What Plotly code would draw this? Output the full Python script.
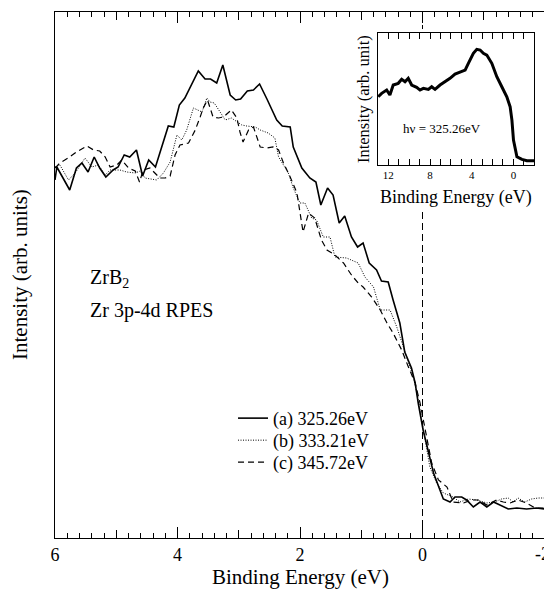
import plotly.graph_objects as go

# ---------------- main panel data (binding energy in eV, intensity arb. units) -------------
energy_a = [6.00, 5.97, 5.76, 5.65, 5.56, 5.46, 5.36, 5.27, 5.17, 5.05, 4.97, 4.87, 4.78, 4.67,
            4.57, 4.47, 4.36, 4.15, 4.06, 3.97, 3.88, 3.66, 3.55, 3.46, 3.36, 3.26, 3.14, 3.05,
            2.97, 2.86, 2.76, 2.66, 2.54, 2.38, 2.29, 2.16, 2.11, 1.97, 1.84, 1.74, 1.66, 1.55,
            1.46, 1.36, 1.27, 1.16, 1.06, 0.97, 0.87, 0.75, 0.67, 0.56, 0.48, 0.37, 0.29, 0.18,
            0.12, 0.07, -0.01, -0.12, -0.18, -0.34, -0.45, -0.53, -0.64, -0.72, -0.83, -0.94,
            -1.05, -1.16, -1.27, -1.40, -1.54, -1.70, -1.86, -2.00]
intensity_a = [3.58, 3.71, 3.48, 3.70, 3.75, 3.66, 3.81, 3.70, 3.61, 3.68, 3.71, 3.83, 3.81, 3.88,
               3.62, 3.78, 3.71, 4.12, 4.11, 4.33, 4.40, 4.67, 4.59, 4.59, 4.55, 4.73, 4.43, 4.38,
               4.39, 4.47, 4.48, 4.54, 4.39, 4.18, 4.12, 4.11, 3.91, 3.70, 3.60, 3.56, 3.33, 3.50,
               3.43, 3.15, 3.22, 3.01, 2.91, 2.95, 2.75, 2.68, 2.57, 2.56, 2.38, 2.15, 1.86, 1.70,
               1.55, 1.35, 1.08, 0.78, 0.65, 0.39, 0.36, 0.41, 0.41, 0.38, 0.31, 0.36,
               0.31, 0.36, 0.33, 0.29, 0.30, 0.29, 0.30, 0.29]

energy_b = [6.00, 5.92, 5.78, 5.67, 5.51, 5.40, 5.29, 5.18, 5.10, 4.94, 4.83, 4.69, 4.61, 4.53,
            4.34, 4.23, 4.12, 4.01, 3.93, 3.85, 3.74, 3.60, 3.52, 3.47, 3.40, 3.31, 3.22, 3.12,
            3.01, 2.95, 2.87, 2.73, 2.65, 2.52, 2.41, 2.35, 2.27, 2.19, 2.11, 2.00, 1.92, 1.81,
            1.73, 1.62, 1.51, 1.43, 1.24, 1.05, 0.94, 0.80, 0.69, 0.53, 0.42, 0.31, 0.20, 0.15,
            0.07, 0.01, -0.04, -0.12, -0.23, -0.34, -0.50, -0.61, -0.75, -0.89, -1.05, -1.18,
            -1.29, -1.40, -1.48, -1.56, -1.67, -1.78, -1.89, -2.00]
intensity_b = [3.71, 3.73, 3.58, 3.65, 3.80, 3.71, 3.73, 3.63, 3.68, 3.68, 3.66, 3.65, 3.67, 3.60,
               3.58, 3.65, 3.76, 4.03, 3.98, 4.08, 4.30, 4.26, 4.40, 4.36, 4.35, 4.26, 4.18, 4.20,
               4.15, 4.13, 4.12, 4.11, 4.08, 4.05, 4.00, 3.81, 3.73, 3.65, 3.50, 3.35, 3.35, 3.20,
               3.18, 3.01, 3.01, 2.81, 2.80, 2.75, 2.61, 2.51, 2.28, 2.28, 2.11, 1.91, 1.71, 1.61,
               1.38, 1.18, 0.98, 0.71, 0.55, 0.45, 0.41, 0.36, 0.39, 0.38, 0.35, 0.36,
               0.39, 0.40, 0.36, 0.40, 0.36, 0.39, 0.40, 0.40]

energy_c = [6.00, 5.92, 5.76, 5.65, 5.48, 5.37, 5.27, 5.18, 5.10, 4.99, 4.91, 4.80, 4.69, 4.62,
            4.56, 4.45, 4.37, 4.29, 4.20, 4.12, 4.04, 3.96, 3.82, 3.71, 3.63, 3.58, 3.51, 3.42,
            3.33, 3.25, 3.12, 3.03, 2.98, 2.93, 2.84, 2.76, 2.65, 2.54, 2.44, 2.35, 2.27, 2.16,
            2.05, 1.95, 1.86, 1.76, 1.65, 1.56, 1.43, 1.29, 1.16, 1.05, 0.97, 0.83, 0.69, 0.58,
            0.48, 0.34, 0.23, 0.12, 0.04, -0.04, -0.15, -0.26, -0.40, -0.50, -0.67, -0.80,
            -0.91, -1.05, -1.21, -1.32, -1.43, -1.56, -1.70, -1.84, -2.00]
intensity_c = [3.70, 3.75, 3.81, 3.86, 3.92, 3.88, 3.87, 3.81, 3.71, 3.73, 3.78, 3.70, 3.67, 3.56,
               3.68, 3.70, 3.65, 3.60, 3.60, 3.62, 3.83, 3.93, 3.95, 4.08, 4.21, 4.30, 4.38, 4.21,
               4.20, 4.21, 4.28, 4.20, 4.06, 3.96, 4.08, 4.11, 3.91, 3.90, 3.91, 3.88, 3.75, 3.61,
               3.45, 3.06, 3.25, 3.20, 2.98, 2.88, 2.83, 2.75, 2.63, 2.55, 2.51, 2.41, 2.28, 2.15,
               2.05, 1.88, 1.71, 1.55, 1.35, 1.08, 0.75, 0.58, 0.51, 0.36, 0.35, 0.38,
               0.38, 0.33, 0.38, 0.36, 0.35, 0.38, 0.35, 0.30, 0.30]

series_names = ["(a) 325.26eV", "(b) 333.21eV", "(c) 345.72eV"]

# ---------------- inset data (hv = 325.26 eV, wide range) ----------------
inset_energy = [12.97, 12.64, 12.16, 11.85, 11.53, 11.05, 10.72, 10.40, 10.09, 9.76, 9.28, 8.96,
                8.64, 8.16, 7.84, 7.52, 7.04, 6.56, 6.08, 5.60, 5.12, 4.63, 4.32, 3.84, 3.51,
                3.19, 2.88, 2.55, 2.07, 1.59, 1.11, 0.63, 0.31, 0.14, -0.01, -0.34, -0.82,
                -1.30, -2.00]
inset_intensity = [6.83, 7.17, 7.50, 7.00, 8.00, 8.17, 8.57, 8.33, 8.67, 8.00, 7.77, 7.50,
                   7.67, 7.57, 7.83, 7.57, 8.00, 8.33, 8.67, 9.10, 9.33, 9.50, 10.17, 11.17, 11.57,
                   11.50, 11.17, 11.00, 10.17, 8.83, 7.83, 6.83, 5.83, 4.50, 2.50, 0.83, 0.57,
                   0.43, 0.43]

x_tick_vals = [6, 4, 2, 0, -2]
x_tick_text = ["6", "4", "2", "0", ""]   # the edge label "-2" is placed as an annotation
edge_tick_text = "-2"
inset_tick_vals = [12, 8, 4, 0]
inset_tick_text = ["12", "8", "4", "0"]

FONT = "Liberation Serif, Times New Roman, serif"

fig = go.Figure()

fig.add_trace(go.Scatter(x=energy_a, y=intensity_a, mode="lines", name=series_names[0],
                         legend="legend", line=dict(color="black", width=1.6)))
fig.add_trace(go.Scatter(x=energy_b, y=intensity_b, mode="lines", name=series_names[1],
                         legend="legend2", line=dict(color="black", width=1, dash="1px,1.5px")))
fig.add_trace(go.Scatter(x=energy_c, y=intensity_c, mode="lines", name=series_names[2],
                         legend="legend3", line=dict(color="black", width=1.2, dash="6px,4px")))
# dummy trace to create the overlay axis carrying the unit ticks
fig.add_trace(go.Scatter(x=[None], y=[None], xaxis="x3", yaxis="y", showlegend=False,
                         hoverinfo="skip"))
# inset
fig.add_trace(go.Scatter(x=inset_energy, y=inset_intensity, mode="lines", xaxis="x2", yaxis="y2",
                         showlegend=False, line=dict(color="black", width=3)))

legend_style = dict(xanchor="left", yanchor="top", bgcolor="rgba(0,0,0,0)",
                    font=dict(size=18), x=0.3633)

# the page body has an 8px margin, so the figure is 8px smaller and margins shifted
fig.update_layout(
    width=544, height=583,
    margin=dict(l=47, r=7, t=4, b=53),
    paper_bgcolor="white", plot_bgcolor="white",
    font=dict(family=FONT, color="black", size=18),
    xaxis=dict(range=[6, -2], tickmode="array", tickvals=x_tick_vals, ticktext=x_tick_text,
               ticks="inside", ticklen=11, tickwidth=1, tickcolor="black",
               minor=dict(dtick=0.2, tick0=0, ticks="inside", ticklen=5, tickwidth=1,
                          tickcolor="black", showgrid=False),
               showline=True, linecolor="black", linewidth=1.3, mirror="ticks",
               showgrid=False, zeroline=False, tickfont=dict(size=18)),
    xaxis3=dict(range=[6, -2], overlaying="x", anchor="y", tickmode="array",
                tickvals=[5, 3, 1, -1], ticks="inside", ticklen=8, tickwidth=1,
                tickcolor="black", mirror="ticks", showline=False, showticklabels=False,
                showgrid=False, zeroline=False),
    yaxis=dict(range=[0, 5.26], showticklabels=False, ticks="", showline=True,
               linecolor="black", linewidth=1.3, mirror=True, showgrid=False, zeroline=False),
    xaxis2=dict(domain=[0.659, 0.978], anchor="y2", range=[13, -2], tickmode="array",
                tickvals=inset_tick_vals, ticktext=inset_tick_text, ticks="inside", ticklen=6,
                tickcolor="black",
                minor=dict(dtick=1, tick0=0, ticks="inside", ticklen=6, tickcolor="black"),
                showline=True, linecolor="black", linewidth=1.2, mirror="ticks",
                showgrid=False, zeroline=False, tickfont=dict(size=11)),
    yaxis2=dict(domain=[0.709, 0.960], anchor="x2", range=[0, 13.2], showticklabels=False,
                ticks="", showline=True, linecolor="black", linewidth=1.2, mirror=True,
                showgrid=False, zeroline=False),
    legend=dict(y=0.2625, **legend_style),
    legend2=dict(y=0.2206, **legend_style),
    legend3=dict(y=0.1788, **legend_style),
    showlegend=True,
)

# dashed Fermi level markers
fig.add_shape(type="line", xref="x", yref="y domain", x0=0, x1=0, y0=0, y1=1,
              line=dict(color="black", width=1, dash="7px,4px"), layer="below")
# white backing of the inset (hides the main Fermi-level line behind the inset)
fig.add_shape(type="rect", xref="x2 domain", yref="y2 domain", x0=-0.2, x1=1.04, y0=-0.33,
              y1=1.03, fillcolor="white", line=dict(width=0), layer="below")
fig.add_shape(type="line", xref="x2", yref="y2 domain", x0=0, x1=0, y0=0, y1=1,
              line=dict(color="black", width=1, dash="5px,3px"), layer="below")

annotations = [
    dict(text=edge_tick_text, xref="paper", yref="paper", x=1.0135, y=-0.0295,
         xanchor="right", yanchor="middle", showarrow=False, font=dict(size=18)),
    dict(text="ZrB<sub>2</sub>", xref="paper", yref="paper", x=0.0673, y=0.4924,
         xanchor="left", yanchor="middle", showarrow=False, font=dict(size=20)),
    dict(text="Zr 3p-4d RPES", xref="paper", yref="paper", x=0.0673, y=0.4316,
         xanchor="left", yanchor="middle", showarrow=False, font=dict(size=20)),
    dict(text="Binding Energy (eV)", xref="paper", yref="paper", x=0.5, y=-0.0745,
         xanchor="center", yanchor="middle", showarrow=False, font=dict(size=21)),
    dict(text="Intensity (arb. units)", xref="paper", yref="paper", x=-0.0714, y=0.5,
         xanchor="center", yanchor="middle", textangle=-90, showarrow=False,
         font=dict(size=21)),
    dict(text="Binding Energy (eV)", xref="x2 domain", yref="paper", x=0.5, y=0.648,
         xanchor="center", yanchor="middle", showarrow=False, font=dict(size=18)),
    dict(text="Intensity (arb. unit)", xref="paper", yref="y2 domain", x=0.6286, y=0.5,
         xanchor="center", yanchor="middle", textangle=-90, showarrow=False,
         font=dict(size=16.5)),
    dict(text="hν = 325.26eV", xref="x2 domain", yref="y2 domain", x=0.41, y=0.28,
         xanchor="center", yanchor="middle", showarrow=False, font=dict(size=13)),
]
fig.update_layout(annotations=annotations)

fig.write_html("out.html")
